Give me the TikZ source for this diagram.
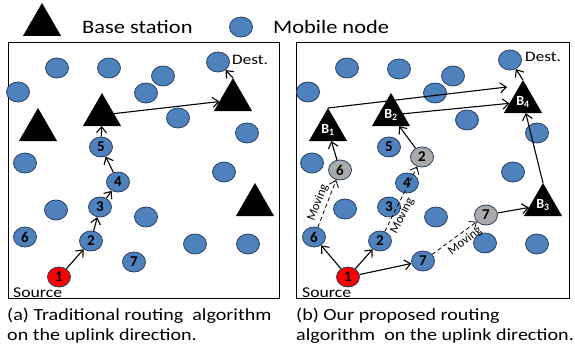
\documentclass[tikz,border=0pt]{standalone}
\usepackage{fontspec}
\setmainfont{Carlito}
\usetikzlibrary{shapes.geometric,arrows.meta,calc}
\definecolor{nodeblue}{RGB}{79,129,189}
\definecolor{nodeedge}{RGB}{38,64,100}
\definecolor{movedgrey}{RGB}{170,170,170}

\begin{document}
\begin{tikzpicture}[x=1pt,y=-1pt,
  mn/.style={ellipse,draw=nodeedge,line width=0.8pt,fill=nodeblue,
    minimum width=23pt,minimum height=20pt,inner sep=0pt,
    font=\fontsize{15}{15}\selectfont\bfseries},
  src/.style={mn,fill=red},
  moved/.style={mn,fill=movedgrey},
  bs/.style={regular polygon,regular polygon sides=3,fill=black,
    minimum size=44pt,inner sep=0pt,outer sep=0pt,text=white,
    font=\fontsize{14}{14}\selectfont\bfseries},
  link/.style={-{Straight Barb[length=6pt,width=10pt]},line width=1.1pt},
  hop/.style={link,dashed,line width=0.8pt,dash pattern=on 4pt off 3pt},
  txt/.style={inner sep=0pt,xscale=1.18},
  movlbl/.style={font=\fontsize{12.5}{12.5}\selectfont,inner sep=3pt,sloped},
  frame/.style={draw,line width=1pt}
]
\useasboundingbox (0,0) rectangle (575,353);

% ---------- legend ----------
\node[bs] (legbs) at (42,25) {};
\node[txt,anchor=west,font=\fontsize{19}{19}\selectfont] (legbstxt) at (82,27) {Base station};
\node[mn] (legmn) at (241,27) {};
\node[txt,anchor=west,font=\fontsize{19}{19}\selectfont] (legmntxt) at (273,27) {Mobile node};

% ---------- (a) traditional routing ----------
\draw[frame] (8,43) rectangle (279,298);
\node[mn] (ax1) at (57,68) {};
\node[mn] (ax2) at (109,68) {};
\node[mn] (ax3) at (163,76) {};
\node[mn] (adest) at (218,62) {};
\node[mn] (ax4) at (18,92) {};
\node[mn] (ax5) at (146,93) {};
\node[mn] (ax6) at (178,118) {};
\node[mn] (ax7) at (247,133) {};
\node[mn] (ax8) at (25,163) {};
\node[mn] (ax9) at (224,172) {};
\node[mn] (ax10) at (56,210) {};
\node[mn] (ax11) at (146,217) {};
\node[mn] (ax12) at (195,244) {};
\node[mn] (ax13) at (248,244) {};
\node[bs] (at1) at (38,130) {};
\node[bs] (at2) at (102,115) {};
\node[bs] (at3) at (233,100) {};
\node[bs] (at4) at (255,205) {};
\node[mn] (a5) at (101,147) {5};
\node[mn] (a4) at (118,182) {4};
\node[mn] (a3) at (100,207) {3};
\node[mn] (a6) at (25,237) {6};
\node[mn] (a2) at (91,241) {2};
\node[mn] (a7) at (134,262) {7};
\node[src] (a1) at (59,277) {1};
\node[txt,anchor=west,font=\fontsize{14.5}{14.5}\selectfont] (adesttxt) at (232,60) {Dest.};
\node[txt,anchor=west,font=\fontsize{15}{15}\selectfont] (asrctxt) at (13,293) {Source};

\draw[link] (a1) -- (a2);
\draw[link] (a2) -- (a3);
\draw[link] (a3) -- (a4);
\draw[link] (a4) -- (a5);
\draw[link] (a5) -- (at2);
\draw[link] (at2) -- (at3);
\draw[link] (at3.corner 1) -- (adest);

% ---------- (b) proposed routing ----------
\draw[frame] (296,43) rectangle (569,298);
\node[mn] (bx1) at (347,68) {};
\node[mn] (bx2) at (399,69) {};
\node[mn] (bx3) at (453,76) {};
\node[mn] (bdest) at (510,60) {};
\node[mn] (bx4) at (308,92) {};
\node[mn] (bx5) at (435,93) {};
\node[mn] (bx6) at (467,120) {};
\node[mn] (bx7) at (537,133) {};
\node[mn] (bx8) at (312,163) {};
\node[mn] (bx9) at (513,172) {};
\node[mn] (bx10) at (345,209) {};
\node[mn] (bx11) at (436,217) {};
\node[mn] (bx12) at (485,243) {};
\node[mn] (bx13) at (537,244) {};
\node[bs] (B1) at (328,130) {B\textsubscript{1}};
\node[bs] (B2) at (391,115) {B\textsubscript{2}};
\node[bs] (B4) at (523,102) {B\textsubscript{4}};
\node[bs] (B3) at (543,205) {B\textsubscript{3}};
\node[mn] (b5) at (389,147) {5};
\node[mn] (b4) at (407,183) {4};
\node[mn] (b3) at (389,207) {3};
\node[mn] (b6) at (314,237) {6};
\node[mn] (b2) at (380,241) {2};
\node[mn] (b7) at (423,261) {7};
\node[src] (b1) at (348,277) {1};
\node[moved] (g2) at (422,157) {2};
\node[moved] (g6) at (340,170) {6};
\node[moved] (g7) at (486,215) {7};
\node[txt,anchor=west,font=\fontsize{14.5}{14.5}\selectfont] (bdesttxt) at (525,57) {Dest.};
\node[txt,anchor=west,font=\fontsize{15}{15}\selectfont] (bsrctxt) at (302,293) {Source};

\draw[link] (b1) -- (b6);
\draw[link] (b1) -- (b2);
\draw[link] (b1) -- (b7);
\draw[hop] (b6) -- node[movlbl,above,pos=0.45] {Moving} (g6);
\draw[hop] (b2) -- node[movlbl,below,pos=0.3] {Moving} (g2);
\draw[hop] (b7) -- node[movlbl,below,pos=0.62] {Moving} (g7);
\draw[link] (g6) -- (B1);
\draw[link] (g2) -- (B2);
\draw[link] (g7) -- (B3);
\draw[link] (B3.corner 1) -- (B4);
\draw[link] (B1.corner 1) -- ($(B4.corner 1)+(-16,7)$);
\draw[link] (B2) -- (B4);
\draw[link] (B4.corner 1) -- (bdest);

% ---------- captions ----------
\node[txt,anchor=west,font=\fontsize{17}{17}\selectfont] (capa1) at (7,316) {(a) Traditional routing\ \ algorithm};
\node[txt,anchor=west,font=\fontsize{17}{17}\selectfont] (capa2) at (7,336) {on the uplink direction.};
\node[txt,anchor=west,font=\fontsize{17}{17}\selectfont] (capb1) at (296,316) {(b) Our proposed routing};
\node[txt,anchor=west,font=\fontsize{17}{17}\selectfont] (capb2) at (296,336) {algorithm\ \ on the uplink direction.};
\end{tikzpicture}
\end{document}
